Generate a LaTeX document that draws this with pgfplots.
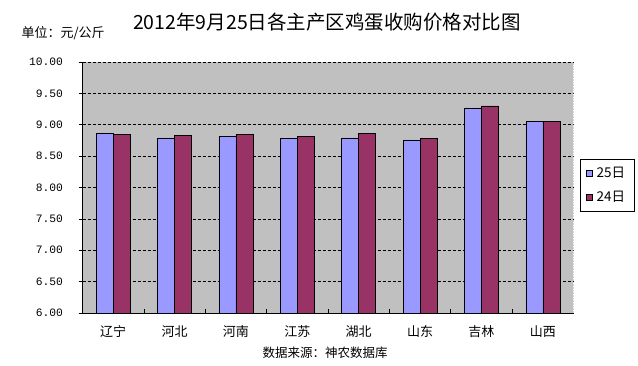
\documentclass[border=0pt]{standalone}
\usepackage{fontspec}
\setmainfont{Noto Sans CJK SC}
\newfontfamily\monofont{Liberation Mono}
\usepackage{pgfplots}
\pgfplotsset{compat=1.18}
\definecolor{bgray}{HTML}{C0C0C0}
\definecolor{sA}{HTML}{9999FF}
\definecolor{sB}{HTML}{993366}
\begin{document}
\begin{tikzpicture}
\useasboundingbox (0,0) rectangle (638pt,366pt);
\begin{axis}[
  at={(82.5pt,53pt)}, anchor=south west,
  scale only axis, width=491pt, height=251pt,
  ybar=0pt, bar width=17pt,
  xmin=-0.5, xmax=7.5, ymin=6, ymax=10,
  xtick={0,...,7},
  xticklabels={辽宁,河北,河南,江苏,湖北,山东,吉林,山西},
  major x tick style={draw=none},
  minor xtick={0.5,1.5,...,6.5},
  minor x tick style={yshift=4pt, black, line width=0.5pt},
  minor tick length=4pt,
  ytick={6,6.5,...,10},
  tick align=outside,
  major tick length=4pt,
  y tick style={black, line width=0.5pt},
  xtick pos=bottom, ytick pos=left,
  axis x line*=bottom, axis y line*=left,
  axis line style={-, black, line width=0.6pt},
  ymajorgrids, major grid style={black, dashed, line width=0.5pt, dash pattern=on 3pt off 2pt},
  axis background/.style={fill=bgray},
  /pgf/number format/assume math mode=true,
  yticklabel={\pgfmathprintnumber[fixed, fixed zerofill, precision=2]{\tick}},
  yticklabel style={font=\monofont\fontsize{11.3}{11}\selectfont, xshift=-12pt},
  xticklabel style={font=\fontsize{13}{13}\selectfont, yshift=-5pt},
  legend style={at={(1,0.5)}, anchor=west, xshift=7pt, yshift=2pt, draw=black, line width=0.5pt, fill=white,
    font=\fontsize{13.5}{14}\selectfont, row sep=8pt, inner ysep=6pt, inner xsep=5pt,
    nodes={inner xsep=4pt}},
  legend cell align=left,
  legend image code/.code={\draw[#1, draw=black, line width=0.4pt] (0pt,-3pt) rectangle (6.5pt,3.5pt);},
]
\addplot[fill=sA, draw=black, line width=0.6pt] coordinates {(0,8.86) (1,8.79) (2,8.81) (3,8.78) (4,8.79) (5,8.76) (6,9.27) (7,9.05)};
\addplot[fill=sB, draw=black, line width=0.6pt] coordinates {(0,8.84) (1,8.83) (2,8.84) (3,8.81) (4,8.86) (5,8.78) (6,9.30) (7,9.05)};
\legend{25日,24日}
\draw[densely dotted, gray, line width=0.6pt] (rel axis cs:1,0) -- (rel axis cs:1,1);
\end{axis}
\node[anchor=center, font=\fontsize{19.5}{20}\selectfont] at (327pt,344pt) {2012年9月25日各主产区鸡蛋收购价格对比图};
\node[anchor=west, font=\fontsize{13}{14}\selectfont] at (18pt,333pt) {单位：元/公斤};
\node[anchor=center, font=\fontsize{12.5}{13}\selectfont] at (325pt,13pt) {数据来源：神农数据库};
\end{tikzpicture}
\end{document}
